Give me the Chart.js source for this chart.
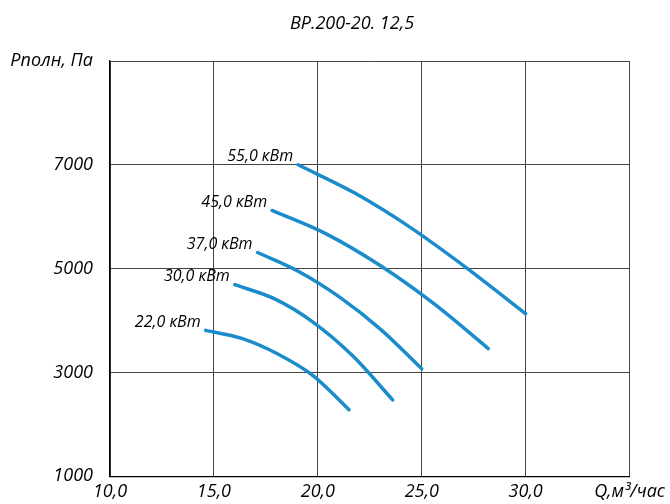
<!DOCTYPE html>
<html>
<head>
<meta charset="utf-8">
<script src="https://cdn.jsdelivr.net/npm/chart.js@4"></script>
<style>
  html, body { margin: 0; padding: 0; background: #fff; }
  #wrap { width: 670px; height: 504px; }
</style>
</head>
<body>
<div id="wrap"><canvas id="myChart" width="670" height="504"></canvas></div>
<script>
// fan curves, Q (x) and P (y)
const title = "ВР.200-20. 12,5"
const powers = ["55,0 кВт", "45,0 кВт", "37,0 кВт", "30,0 кВт", "22,0 кВт"]

const q55 = [19.05, 21.8, 24.5, 27.2, 30.0]
const p55 = [7000, 6450, 5780, 5000, 4130]

const q45 = [17.8, 20.4, 23.0, 25.6, 28.2]
const p45 = [6120, 5670, 5060, 4320, 3460]

const q37 = [17.1, 19.1, 21.05, 23.05, 25.0]
const p37 = [5310, 4940, 4450, 3820, 3070]

const q30 = [16.0, 17.9, 19.8, 21.7, 23.6]
const p30 = [4690, 4420, 3960, 3310, 2470]

const q22 = [14.6, 16.3, 18.05, 19.8, 21.5]
const p22 = [3810, 3660, 3360, 2930, 2280]

const xTicks = [10, 15, 20, 25, 30, 35]
const yTicks = [1000, 3000, 5000, 7000, 9000]
const xAxisName = "Q,м³/час"
const yAxisName = "Рполн, Па"

const series = [[q55, p55], [q45, p45], [q37, p37], [q30, p30], [q22, p22]]
const lineColor = "#1a8ccc"
const font = "'Open Sans'"

const datasets = series.map((s, i) => ({
    label: powers[i],
    data: s[0].map((x, k) => ({x: x, y: s[1][k]})),
    showLine: true,
    borderColor: lineColor,
    borderWidth: 3.5,
    borderCapStyle: 'round',
    pointRadius: 0,
    cubicInterpolationMode: 'monotone',
    fill: false
}))

// title and power labels next to the start of every curve
const curveLabels = {
    id: 'curveLabels',
    afterDatasetsDraw(chart) {
        const ctx = chart.ctx
        ctx.save()
        ctx.fillStyle = "#000"
        ctx.textBaseline = "middle"
        ctx.textAlign = "center"
        ctx.font = "italic 18px " + font
        ctx.fillText(title, 352, 24)
        ctx.font = "italic 16px " + font
        ctx.textAlign = "right"
        chart.data.datasets.forEach((ds, i) => {
            const p = ds.data[0]
            const px = chart.scales.x.getPixelForValue(p.x)
            const py = chart.scales.y.getPixelForValue(p.y)
            ctx.fillText(ds.label, px - 5, py - 8)
        })
        ctx.restore()
    }
}

const tickFont = { family: font, size: 18, style: 'italic' }

const ctx = document.getElementById('myChart').getContext('2d')
new Chart(ctx, {
    type: 'scatter',
    data: { datasets: datasets },
    plugins: [curveLabels],
    options: {
        responsive: false,
        animation: false,
        layout: { padding: { top: 61, right: 38, left: 0, bottom: 0 } },
        plugins: {
            legend: { display: false },
            tooltip: { enabled: false },
            title: { display: false }
        },
        scales: {
            x: {
                type: 'linear',
                min: 10,
                max: 35,
                afterBuildTicks: (scale) => { scale.ticks = xTicks.map(v => ({value: v})) },
                afterFit: (scale) => { scale.height = 27 },
                border: { display: true, color: "#000", width: 1.3 },
                grid: { color: "#444", lineWidth: 1, drawTicks: false },
                ticks: {
                    color: "#000",
                    padding: 5,
                    maxRotation: 0,
                    font: tickFont,
                    callback: (v) => v == 35 ? xAxisName : v.toFixed(1).replace('.', ',')
                }
            },
            y: {
                type: 'linear',
                min: 1000,
                max: 9000,
                afterBuildTicks: (scale) => { scale.ticks = yTicks.map(v => ({value: v})) },
                afterFit: (scale) => { scale.width = 110 },
                border: { display: true, color: "#000", width: 1.3 },
                grid: { color: "#444", lineWidth: 1, drawTicks: false },
                ticks: {
                    color: "#000",
                    padding: 17,
                    font: tickFont,
                    callback: (v) => v == 9000 ? yAxisName : String(v)
                }
            }
        }
    }
})
</script>
</body>
</html>
